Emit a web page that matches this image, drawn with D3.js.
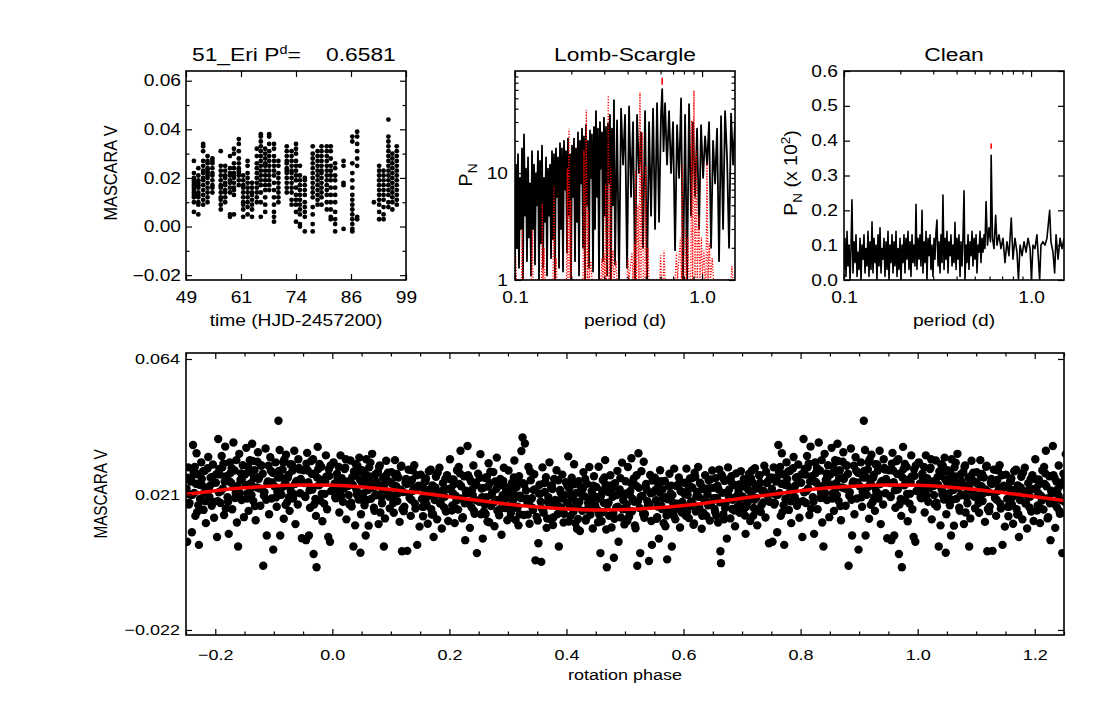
<!DOCTYPE html>
<html>
<head>
<meta charset="utf-8">
<script src="https://cdn.jsdelivr.net/npm/d3@7/dist/d3.min.js"></script>
<style>
html,body{margin:0;padding:0;background:#fff;}
svg{display:block;}
text{font-family:"Liberation Sans",Arial,Helvetica,sans-serif;fill:#000;}
</style>
</head>
<body>
<svg id="chart" width="1097" height="706"></svg>
<script>
// ================= DATA =================
const starName = "51_Eri";
const bestPeriodLabel = "0.6581";
const markPeriod = 0.612;          // period of the marked peak
const lsMarkRange = [67, 78];       // red marker extent in Lomb-Scargle power
const cleanMarkRange = [0.377, 0.392];

// light curve: one entry per night (time) with the magnitudes of that night
const lcNightTimes = [50.8, 51.8, 52.9, 53.9, 55.0, 56.9, 57.9, 59.0, 59.9, 61.0, 62.0, 63.0, 64.0, 65.1, 66.0, 67.0, 67.9, 69.0, 70.0, 71.9, 73.0, 74.0, 74.9, 76.0, 77.8, 78.9, 79.8, 81.0, 81.9, 82.9, 84.8, 86.8, 87.9, 91.7, 92.9, 93.9, 95.0, 95.9, 96.9];
const lcNightMags = [
  [0.027,0.022,0.020,0.019,0.018,0.017,0.016,0.015,0.014,0.013,0.012,0.010,0.006],
  [0.024,0.021,0.019,0.018,0.017,0.016,0.014,0.013,0.012,0.010,0.009,0.005],
  [0.034,0.033,0.031,0.027,0.025,0.023,0.022,0.020,0.019,0.017,0.015,0.013,0.011,0.009],
  [0.029,0.027,0.026,0.024,0.023,0.022,0.021,0.020,0.018,0.016,0.014,0.012,0.010],
  [0.028,0.027,0.026,0.024,0.022,0.021,0.019,0.017,0.016,0.014],
  [0.031,0.025,0.023,0.021,0.019,0.017,0.016,0.014,0.012,0.011,0.009,0.007],
  [0.025,0.023,0.021,0.020,0.018,0.017,0.015,0.014,0.012,0.010],
  [0.029,0.024,0.022,0.021,0.019,0.018,0.016,0.014,0.005,0.004],
  [0.032,0.030,0.026,0.024,0.022,0.021,0.020,0.018,0.016,0.015,0.013,0.005],
  [0.036,0.034,0.031,0.028,0.026,0.024,0.023,0.022,0.021,0.019,0.017],
  [0.021,0.019,0.017,0.016,0.014,0.012,0.010,0.009,0.007,0.004],
  [0.027,0.025,0.022,0.020,0.018,0.016,0.014,0.012,0.010,0.008,0.005],
  [0.018,0.016,0.014,0.013,0.011,0.009,0.007,0.004],
  [0.032,0.029,0.026,0.024,0.022,0.020,0.018,0.016,0.014,0.012,0.010],
  [0.038,0.037,0.035,0.033,0.031,0.029,0.027,0.025,0.023,0.021,0.019,0.017,0.014,0.010,0.004],
  [0.032,0.030,0.028,0.026,0.025,0.023,0.021,0.019,0.017,0.015,0.012,0.009,0.006],
  [0.038,0.037,0.034,0.031,0.029,0.027,0.025,0.023,0.021,0.019,0.017,0.015],
  [0.034,0.032,0.029,0.027,0.025,0.023,0.021,0.018,0.015,0.012,0.009,0.006,0.004,0.002],
  [0.027,0.025,0.022,0.020,0.018,0.016,0.014,0.012,0.010],
  [0.033,0.031,0.029,0.027,0.026,0.024,0.023,0.022,0.020,0.018,0.016,0.014],
  [0.031,0.029,0.027,0.025,0.023,0.022,0.020,0.018,0.016,0.014,0.011,0.009],
  [0.034,0.032,0.030,0.027,0.025,0.023,0.021,0.019,0.016,0.013,0.011,0.009,0.006,0.002],
  [0.025,0.021,0.019,0.017,0.015,0.013,0.011,0.009,0.007,0.005,0.001,0.000],
  [0.020,0.019,0.017,0.015,0.013,0.010,0.008,0.006,0.004,-0.002],
  [0.033,0.030,0.028,0.026,0.024,0.022,0.020,0.018,0.016,0.014,0.012,0.008,0.005,0.001,-0.002],
  [0.031,0.029,0.027,0.025,0.023,0.021,0.019,0.017,0.015,0.013,0.011,0.009],
  [0.033,0.031,0.029,0.027,0.025,0.023,0.022,0.020,0.018,0.016,0.014,0.012,0.009],
  [0.033,0.031,0.029,0.027,0.025,0.023,0.021,0.019,0.017,0.015,0.013,0.010,0.007],
  [0.033,0.031,0.028,0.025,0.023,0.021,0.019,0.016,0.013,0.010,0.007,0.004,0.003],
  [0.026,0.024,0.021,0.019,0.016,0.013,0.010,0.006,0.003,0.001,-0.002],
  [0.027,0.025,0.018,0.017,-0.001],
  [0.037,0.035,0.026,0.022,0.019,0.016,0.013,0.011,0.009,0.007,0.005,0.003,0.001,-0.001,-0.002],
  [0.039,0.037,0.034,0.031,0.028,0.025,0.004,0.003],
  [0.010],
  [0.025,0.023,0.021,0.019,0.017,0.015,0.013,0.011,0.009,0.006,0.003],
  [0.023,0.021,0.019,0.017,0.015,0.013,0.011,0.008,0.005,0.003],
  [0.044,0.037,0.035,0.033,0.031,0.029,0.027,0.025,0.023,0.021,0.019,0.017,0.015,0.013,0.010,0.008],
  [0.030,0.028,0.026,0.024,0.022,0.020,0.018,0.016,0.014,0.012,0.010,0.007],
  [0.033,0.031,0.029,0.027,0.025,0.023,0.021,0.019,0.017,0.015,0.013,0.011,0.009]
];

// Lomb-Scargle periodogram (turning points of the black curve)
const lsPeriods = [
0.1000,0.1012,0.1025,0.1038,0.1050,0.1064,0.1077,0.1090,0.1103,0.1117,0.1131,0.1145,0.1159,0.1174,0.1188,0.1203,0.1218,0.1233,0.1248,0.1264,
0.1279,0.1295,0.1311,0.1327,0.1344,0.1360,0.1377,0.1394,0.1412,0.1429,0.1447,0.1465,0.1483,0.1501,0.1520,0.1539,0.1558,0.1577,0.1597,0.1616,
0.1636,0.1656,0.1677,0.1698,0.1719,0.1740,0.1762,0.1783,0.1806,0.1828,0.1851,0.1873,0.1897,0.1920,0.1944,0.1968,0.1993,0.2017,0.2042,0.2067,
0.2093,0.2118,0.2145,0.2171,0.2199,0.2225,0.2254,0.2281,0.2310,0.2337,0.2368,0.2396,0.2427,0.2455,0.2487,0.2517,0.2549,0.2579,0.2613,0.2643,
0.2678,0.2709,0.2745,0.2777,0.2813,0.2846,0.2883,0.2917,0.2955,0.2989,0.3029,0.3064,0.3105,0.3140,0.3182,0.3218,0.3261,0.3299,0.3343,0.3381,
0.3426,0.3512,0.3599,0.3689,0.3781,0.3875,0.3972,0.4071,0.4172,0.4276,0.4383,0.4492,0.4604,0.4719,0.4837,0.4957,0.5081,0.5207,0.5337,0.5470,
0.5607,0.5746,0.5890,0.6036,0.6120,0.6225,0.6341,0.6499,0.6661,0.6827,0.6998,0.7172,0.7351,0.7534,0.7722,0.7914,0.8112,0.8314,0.8521,0.8734,
0.8951,0.9174,0.9403,0.9637,0.9878,1.0124,1.0376,1.0635,1.0900,1.1172,1.1450,1.1736,1.2028,1.2328,1.2635,1.2950,1.3273,1.3603,1.3942,1.4290,
1.4646,1.5011];
const lsPower = [
1.2,12,2.0,15,1.3,9,3.0,17,1.0,23,4,11,1.5,14,2.5,8,1.1,16,3,12,
1.4,10,5,16,1.0,13,2.2,18,1.3,9,3.5,14,1.1,11,4,12,1.6,16,2.4,15,
1.0,17,6,14,1.3,19,3,17,1.2,20,7,16,1.8,21,4,15,1.0,18,6,21,
1.5,17,3.5,24,1.1,20,8,26,2,22,1.0,28,5,20,1.3,25,9,23,1.2,27,
3,38,6,26,1.0,30,11,24,1.5,33,4,27,1.1,29,8,35,1.0,26,5,48,
1.4,31,1.0,40,12,35,1.3,42,6,30,1.0,35,10,24,2,38,1.0,30,4,40,
3,45,3.5,36,61,16,45,12,38,10,30,1.9,28,9,50,1.0,35,1.0,44,4,
30,6,26,3,28,9,22,12,30,2,20,8,26,1.5,34,3,38,14,2.0,36,
12,30];

// spectral window (red dotted)
const winPeriods = [0.1000,0.10086,0.1019,0.1083,0.1094,0.1103,0.1225,0.1237,0.1248,0.1386,0.1399,0.1411,0.1429,0.1447,0.1596,0.1616,0.1636,0.1656,0.1677,0.1885,0.1904,0.1920,0.1944,0.1968,0.1985,0.2005,0.2309,0.2337,0.2366,0.2405,0.2434,0.2464,0.2486,0.2548,0.2579,0.2882,0.2917,0.2953,0.2990,0.3027,0.3053,0.3083,0.3121,0.3152,0.3187,0.3247,0.3279,0.3340,0.3381,0.3466,0.3509,0.3968,0.4017,0.4067,0.4220,0.4272,0.4352,0.4379,0.4417,0.4461,0.4544,0.4600,0.4657,0.4715,0.4791,0.4850,0.4952,0.4995,0.5045,0.5139,0.5202,0.5936,0.6009,0.6069,0.6197,0.6258,0.6336,0.7165,0.7298,0.7388,0.7666,0.7761,0.7838,0.7925,0.8083,0.8173,0.8254,0.8407,0.8511,0.8702,0.8799,0.8908,0.9051,0.9163,0.9311,0.9427,0.9626,0.9745,0.9926,1.0049,1.0237,1.0363,1.0492,1.0622,1.0753,1.0954,1.1089,1.1338,1.1506,1.4270,1.4446,1.4625,1.5011];
const winPower = [1,1.7,1,1,3.0,1,1,2.9,1,1,5.2,1,2.0,1,1,7.5,1,1.6,1,1,11,1,26,1,5.6,1,1,16.5,1,39,1,4.5,1,1.5,1,1,1.6,1,1.8,1,8,1,1.6,53,1,11.6,1,1.9,1,1.5,1,1,1.6,1,1.8,1,2.2,1,10.5,1,5,1,57,1,24,1,1,11.6,1,2.0,1,1,1.7,1,1,1.9,1,1,1.8,1,2.5,1,12,1,1,3,1,2.5,1,1,31,1,59,1,16,1,4,1,2.5,1,1.9,1,1,12.5,1,2.2,1,1.6,1,1,1.35,1,1];

// CLEAN periodogram (power x 10^2)
const cleanPeriods = [
0.1000,0.1012,0.1025,0.1038,0.1050,0.1064,0.1077,0.1090,0.1103,0.1117,0.1131,0.1145,0.1159,0.1174,0.1188,0.1203,0.1218,0.1233,0.1248,0.1264,
0.1279,0.1295,0.1311,0.1327,0.1344,0.1360,0.1377,0.1394,0.1412,0.1429,0.1447,0.1465,0.1483,0.1501,0.1520,0.1539,0.1558,0.1577,0.1597,0.1616,
0.1636,0.1656,0.1677,0.1698,0.1719,0.1740,0.1762,0.1783,0.1806,0.1828,0.1851,0.1873,0.1897,0.1920,0.1944,0.1968,0.1993,0.2017,0.2042,0.2067,
0.2093,0.2118,0.2145,0.2171,0.2199,0.2225,0.2254,0.2281,0.2310,0.2337,0.2368,0.2396,0.2427,0.2455,0.2487,0.2517,0.2549,0.2579,0.2613,0.2643,
0.2678,0.2709,0.2745,0.2777,0.2813,0.2846,0.2883,0.2917,0.2955,0.2989,0.3029,0.3064,0.3105,0.3140,0.3182,0.3218,0.3261,0.3299,0.3343,0.3381,
0.3426,0.3466,0.3512,0.3552,0.3599,0.3640,0.3689,0.3731,0.3781,0.3824,0.3875,0.3920,0.3972,0.4017,0.4071,0.4118,0.4172,0.4220,0.4276,0.4325,
0.4383,0.4433,0.4492,0.4544,0.4604,0.4657,0.4719,0.4773,0.4837,0.4892,0.4957,0.5014,0.5081,0.5139,0.5207,0.5267,0.5337,0.5398,0.5470,0.5532,
0.5607,0.5670,0.5746,0.5848,0.5958,0.6069,0.6120,0.6220,0.6336,0.6468,0.6573,0.6736,0.6904,0.7077,0.7253,0.7434,0.7619,0.7838,0.8003,0.8203,
0.8407,0.8564,0.8734,0.8951,0.9174,0.9403,0.9637,0.9878,1.0049,1.0237,1.0492,1.0753,1.1116,1.1296,1.1578,1.1866,1.2162,1.2573,1.2776,1.3094,
1.3371,1.3603,1.3942,1.4290,1.4646,1.5011];
const cleanPower = [
0.03,0.12,0.01,0.14,0.04,0.10,0.00,0.09,0.230,0.02,0.11,0.05,0.13,0.01,0.08,0.03,0.12,0.00,0.10,0.06,
0.13,0.02,0.09,0.04,0.14,0.01,0.11,0.03,0.167,0.02,0.12,0.05,0.10,0.00,0.13,0.04,0.15,0.02,0.09,0.06,
0.12,0.01,0.11,0.03,0.14,0.00,0.10,0.05,0.13,0.02,0.11,0.04,0.14,0.01,0.09,0.03,0.12,0.00,0.10,0.05,
0.13,0.02,0.12,0.06,0.14,0.03,0.11,0.01,0.13,0.05,0.10,0.04,0.217,0.03,0.12,0.06,0.13,0.04,0.200,0.02,
0.11,0.05,0.14,0.00,0.12,0.07,0.13,0.03,0.10,0.01,0.12,0.06,0.14,0.172,0.04,0.11,0.02,0.13,0.05,0.244,
0.03,0.12,0.06,0.14,0.02,0.11,0.07,0.13,0.04,0.10,0.05,0.166,0.03,0.12,0.06,0.13,0.01,0.11,0.04,0.12,
0.256,0.00,0.10,0.05,0.13,0.03,0.11,0.07,0.14,0.04,0.12,0.06,0.13,0.02,0.10,0.08,0.14,0.05,0.12,0.08,
0.13,0.09,0.225,0.10,0.15,0.11,0.358,0.12,0.09,0.186,0.10,0.13,0.09,0.12,0.05,0.11,0.07,0.178,0.06,0.12,
0.08,0.00,0.10,0.07,0.11,0.08,0.12,0.09,0.00,0.10,0.09,0.13,0.00,0.10,0.11,0.10,0.12,0.200,0.11,0.08,
0.02,0.13,0.06,0.12,0.09,0.12];

// phase-folded light curve [phase, magnitude], phases in [0,1)
const foldedPoints = [
[0.002,0.0312],[0.004,0.0245],[0.006,0.0198],[0.008,0.0276],[0.010,0.0221],[0.012,0.0153],[0.014,0.0334],[0.016,0.0262],[0.018,0.0187],[0.020,0.0229],[0.022,0.0295],[0.024,0.0131],[0.026,0.0251],[0.028,0.0208],[0.031,0.0318],[0.033,0.0172],[0.035,0.0241],[0.037,0.0283],[0.039,0.0112],[0.041,0.0226],[0.043,0.0301],[0.045,0.0194],[0.047,0.0258],[0.049,0.0147],[0.036,0.0045],[0.048,0.0025],
[0.003,0.0228],[0.009,0.0263],[0.015,0.0206],[0.021,0.0291],[0.027,0.0237],[0.032,0.0184],[0.038,0.0272],[0.044,0.0215],[0.046,0.0327],[0.050,0.0249],
[0.005,0.0201],[0.011,0.0297],[0.017,0.0238],[0.023,0.0322],[0.029,0.0179],[0.034,0.0265],[0.040,0.0306],[0.042,0.0209],[0.013,0.0252],[0.047,0.0283],
[0.051,0.0287],[0.053,0.0213],[0.055,0.0176],[0.058,0.0322],[0.060,0.0248],[0.062,0.0111],[0.064,0.0267],[0.066,0.0196],[0.068,0.0339],[0.070,0.0231],[0.072,0.0158],[0.074,0.0274],[0.076,0.0209],[0.079,0.0116],[0.081,0.0302],[0.083,0.0238],[0.085,0.0182],[0.087,0.0263],[0.088,0.0045],[0.090,0.0134],[0.092,0.0317],[0.094,0.0219],[0.096,0.0252],[0.098,0.0166],[0.057,0.0080],
[0.054,0.0258],[0.059,0.0193],[0.063,0.0296],[0.069,0.0244],[0.073,0.0207],[0.078,0.0281],[0.082,0.0153],[0.086,0.0226],[0.091,0.0269],[0.097,0.0203],
[0.052,0.0192],[0.056,0.0276],[0.061,0.0224],[0.065,0.0311],[0.071,0.0168],[0.075,0.0251],[0.080,0.0297],[0.084,0.0201],[0.089,0.0242],[0.095,0.0279],
[0.101,0.0281],[0.103,0.0207],[0.105,0.0152],[0.107,0.0319],[0.109,0.0236],[0.111,0.0189],[0.113,0.0264],[0.115,0.0123],[0.117,0.0298],[0.119,0.0030],[0.121,0.0218],[0.123,0.0171],[0.125,0.0247],[0.128,0.0031],[0.130,0.0289],[0.132,0.0199],[0.134,0.0142],[0.136,0.0256],[0.138,0.0222],[0.140,0.0303],[0.142,0.0165],[0.145,0.0050],[0.147,0.0238],[0.149,0.0108],
[0.102,0.0244],[0.106,0.0188],[0.110,0.0275],[0.116,0.0226],[0.120,0.0163],[0.126,0.0259],[0.131,0.0212],[0.137,0.0287],[0.141,0.0181],[0.146,0.0233],
[0.104,0.0183],[0.108,0.0266],[0.112,0.0214],[0.118,0.0301],[0.122,0.0157],[0.127,0.0243],[0.133,0.0288],[0.135,0.0193],[0.139,0.0232],[0.144,0.0271],
[0.151,0.0273],[0.153,0.0196],[0.155,0.0141],[0.157,0.0228],[0.159,0.0252],[0.161,0.0178],[0.163,0.0117],[0.165,0.0284],[0.167,0.0210],[0.169,0.0163],[0.171,0.0239],[0.173,0.0075],[0.175,0.0192],[0.177,0.0266],[0.179,0.0131],[0.181,0.0217],[0.183,0.0295],[0.185,0.0184],[0.187,0.0102],[0.189,0.0246],[0.192,0.0203],[0.194,0.0156],[0.196,0.0271],[0.198,0.0126],
[0.152,0.0237],[0.156,0.0171],[0.160,0.0261],[0.166,0.0224],[0.172,0.0147],[0.176,0.0232],[0.180,0.0279],[0.186,0.0208],[0.191,0.0169],[0.197,0.0227],
[0.154,0.0171],[0.158,0.0253],[0.162,0.0202],[0.168,0.0289],[0.170,0.0146],[0.174,0.0231],[0.178,0.0276],[0.184,0.0181],[0.188,0.0222],[0.193,0.0259],
[0.201,0.0322],[0.203,0.0231],[0.205,0.0175],[0.207,0.0258],[0.209,0.0119],[0.211,0.0205],[0.213,0.0287],[0.215,0.0162],[0.217,0.0243],[0.219,0.0349],[0.221,0.0197],[0.223,0.0138],[0.225,0.0268],[0.227,0.0065],[0.229,0.0214],[0.231,0.0364],[0.233,0.0181],[0.235,0.0104],[0.237,0.0251],[0.239,0.0226],[0.241,0.0302],[0.243,0.0149],[0.245,0.0192],[0.247,0.0024],[0.249,0.0276],
[0.202,0.0258],[0.206,0.0214],[0.210,0.0166],[0.216,0.0297],[0.220,0.0236],[0.226,0.0182],[0.232,0.0271],[0.236,0.0219],[0.242,0.0158],[0.246,0.0241],
[0.204,0.0159],[0.208,0.0243],[0.212,0.0191],[0.218,0.0277],[0.222,0.0134],[0.228,0.0222],[0.234,0.0262],[0.238,0.0169],[0.240,0.0208],[0.244,0.0247],
[0.251,0.0187],[0.253,0.0338],[0.255,0.0229],[0.257,0.0070],[0.259,0.0156],[0.261,0.0262],[0.263,0.0201],[0.265,0.0124],[0.267,0.0309],[0.269,0.0246],[0.271,0.0173],[0.273,0.0215],[0.275,0.0281],[0.277,0.0109],[0.279,0.0193],[0.281,0.0327],[0.283,0.0236],[0.285,0.0144],[0.287,0.0259],[0.289,0.0082],[0.291,0.0208],[0.293,0.0295],[0.295,0.0167],[0.297,0.0224],[0.299,0.0128],
[0.252,0.0263],[0.256,0.0201],[0.262,0.0148],[0.266,0.0235],[0.270,0.0282],[0.276,0.0185],[0.280,0.0227],[0.286,0.0163],[0.292,0.0253],[0.296,0.0196],
[0.254,0.0147],[0.258,0.0231],[0.260,0.0179],[0.264,0.0266],[0.268,0.0122],[0.272,0.0208],[0.278,0.0251],[0.282,0.0158],[0.288,0.0196],[0.294,0.0236],
[0.301,0.0286],[0.303,0.0213],[0.305,0.0151],[0.307,0.0247],[0.309,0.0192],[0.311,0.0318],[0.313,0.0129],[0.315,0.0234],[0.317,0.0171],[0.319,0.0268],[0.321,0.0206],[0.323,0.0348],[0.325,0.0391],[0.327,0.0145],[0.329,0.0372],[0.331,0.0223],[0.333,0.0186],[0.335,0.0297],[0.337,0.0117],[0.339,0.0255],[0.341,0.0198],[0.343,0.0161],[0.345,0.0274],[0.347,0.0001],[0.349,0.0139],
[0.302,0.0232],[0.306,0.0176],[0.310,0.0264],[0.316,0.0206],[0.320,0.0147],[0.326,0.0246],[0.332,0.0197],[0.338,0.0283],[0.342,0.0168],[0.346,0.0226],
[0.304,0.0137],[0.308,0.0219],[0.312,0.0168],[0.314,0.0255],[0.318,0.0112],[0.322,0.0199],[0.328,0.0241],[0.334,0.0146],[0.336,0.0185],[0.344,0.0224],
[0.352,0.0055],[0.354,0.0241],[0.356,0.0187],[0.357,-0.0004],[0.359,0.0296],[0.361,0.0152],[0.363,0.0218],[0.365,0.0265],[0.367,0.0134],[0.369,0.0201],[0.371,0.0312],[0.373,0.0176],[0.375,0.0239],[0.377,0.0113],[0.379,0.0259],[0.381,0.0193],[0.383,0.0287],[0.385,0.0148],[0.387,0.0045],[0.389,0.0224],[0.391,0.0169],[0.393,0.0273],[0.395,0.0121],[0.397,0.0208],[0.399,0.0249],
[0.353,0.0213],[0.358,0.0165],[0.362,0.0246],[0.368,0.0186],[0.372,0.0132],[0.376,0.0227],[0.382,0.0174],[0.386,0.0255],[0.392,0.0197],[0.396,0.0149],
[0.351,0.0127],[0.355,0.0212],[0.360,0.0159],[0.364,0.0248],[0.366,0.0104],[0.370,0.0191],[0.374,0.0233],[0.378,0.0138],[0.384,0.0177],[0.390,0.0216],
[0.401,0.0185],[0.403,0.0331],[0.405,0.0228],[0.407,0.0142],[0.409,0.0263],[0.411,0.0197],[0.413,0.0306],[0.415,0.0119],[0.417,0.0215],[0.419,0.0171],[0.421,0.0252],[0.423,0.0094],[0.425,0.0233],[0.427,0.0158],[0.429,0.0281],[0.431,0.0204],[0.433,0.0127],[0.435,0.0244],[0.437,0.0183],[0.439,0.0297],[0.441,0.0146],[0.443,0.0221],[0.445,0.0102],[0.447,0.0268],[0.449,0.0176],
[0.402,0.0236],[0.406,0.0171],[0.410,0.0247],[0.416,0.0188],[0.420,0.0132],[0.426,0.0211],[0.432,0.0259],[0.436,0.0162],[0.442,0.0195],[0.446,0.0238],
[0.404,0.0124],[0.408,0.0207],[0.412,0.0155],[0.414,0.0243],[0.418,0.0101],[0.422,0.0186],[0.428,0.0229],[0.434,0.0134],[0.438,0.0172],[0.444,0.0212],
[0.451,0.0234],[0.453,0.0161],[0.455,0.0298],[0.457,0.0197],[0.458,0.0024],[0.460,0.0125],[0.462,0.0256],[0.464,0.0183],[0.466,0.0319],[0.469,-0.0021],[0.471,0.0218],[0.473,0.0142],[0.475,0.0271],[0.477,0.0105],[0.479,0.0203],[0.481,0.0009],[0.483,0.0246],[0.485,0.0169],[0.487,0.0285],[0.489,0.0060],[0.491,0.0226],[0.493,0.0137],[0.495,0.0311],[0.497,0.0192],[0.499,0.0115],
[0.452,0.0202],[0.456,0.0146],[0.461,0.0223],[0.465,0.0264],[0.470,0.0177],[0.476,0.0239],[0.480,0.0151],[0.486,0.0208],[0.492,0.0262],[0.496,0.0163],
[0.454,0.0122],[0.459,0.0206],[0.463,0.0154],[0.467,0.0241],[0.468,0.0099],[0.472,0.0185],[0.478,0.0228],[0.482,0.0133],[0.488,0.0171],[0.494,0.0211],
[0.501,0.0252],[0.503,0.0178],[0.505,0.0297],[0.507,0.0139],[0.509,0.0221],[0.511,0.0325],[0.513,0.0196],[0.515,0.0261],[0.517,0.0112],[0.519,0.0238],[0.521,-0.0016],[0.523,0.0341],[0.525,0.0167],[0.526,0.0024],[0.528,0.0284],[0.530,0.0205],[0.532,0.0314],[0.534,0.0148],[0.536,0.0243],[0.538,0.0189],[0.541,-0.0001],[0.543,0.0272],[0.545,0.0126],[0.546,0.0050],[0.548,0.0217],
[0.502,0.0213],[0.506,0.0158],[0.510,0.0246],[0.516,0.0187],[0.520,0.0271],[0.527,0.0204],[0.531,0.0148],[0.537,0.0226],[0.542,0.0179],[0.547,0.0254],
[0.504,0.0126],[0.508,0.0209],[0.512,0.0157],[0.514,0.0245],[0.518,0.0103],[0.522,0.0188],[0.524,0.0231],[0.533,0.0136],[0.539,0.0174],[0.544,0.0214],
[0.551,0.0263],[0.553,0.0192],[0.555,0.0138],[0.557,0.0241],[0.558,0.0070],[0.560,0.0287],[0.562,0.0175],[0.564,0.0226],[0.566,0.0119],[0.568,0.0253],[0.570,0.0201],[0.572,0.0004],[0.574,0.0158],[0.576,0.0276],[0.578,0.0213],[0.580,0.0045],[0.582,0.0184],[0.584,0.0292],[0.586,0.0131],[0.588,0.0237],[0.590,0.0166],[0.592,0.0264],[0.594,0.0105],[0.596,0.0219],[0.598,0.0186],
[0.552,0.0224],[0.556,0.0172],[0.561,0.0252],[0.565,0.0199],[0.571,0.0143],[0.575,0.0237],[0.581,0.0208],[0.585,0.0163],[0.591,0.0242],[0.597,0.0153],
[0.554,0.0133],[0.559,0.0216],[0.563,0.0164],[0.567,0.0252],[0.569,0.0109],[0.573,0.0195],[0.579,0.0238],[0.583,0.0143],[0.589,0.0181],[0.595,0.0221],
[0.601,0.0247],[0.603,0.0173],[0.605,0.0292],[0.607,0.0209],[0.609,0.0135],[0.611,0.0261],[0.613,0.0188],[0.615,0.0232],[0.617,0.0114],[0.619,0.0279],[0.621,0.0156],[0.623,0.0218],[0.625,0.0297],[0.627,0.0169],[0.629,0.0243],[0.631,0.0101],[0.633,0.0227],[0.635,0.0194],[0.637,0.0271],[0.639,0.0142],[0.641,0.0211],[0.643,0.0255],[0.645,0.0127],[0.647,0.0183],[0.649,0.0286],
[0.602,0.0211],[0.606,0.0154],[0.610,0.0236],[0.616,0.0181],[0.620,0.0266],[0.626,0.0203],[0.632,0.0142],[0.636,0.0229],[0.642,0.0176],[0.646,0.0258],
[0.604,0.0142],[0.608,0.0226],[0.612,0.0173],[0.614,0.0261],[0.618,0.0118],[0.622,0.0204],[0.628,0.0247],[0.634,0.0152],[0.638,0.0190],[0.644,0.0230],
[0.651,0.0231],[0.653,0.0164],[0.655,0.0262],[0.657,0.0198],[0.659,0.0121],[0.661,0.0289],[0.663,0.0030],[0.664,-0.0008],[0.666,0.0215],[0.668,0.0147],[0.670,0.0253],[0.672,0.0182],[0.674,0.0070],[0.676,0.0296],[0.678,0.0226],[0.680,0.0134],[0.682,0.0268],[0.684,0.0193],[0.686,0.0241],[0.688,0.0109],[0.690,0.0277],[0.692,0.0171],[0.694,0.0219],[0.696,0.0152],[0.698,0.0284],
[0.652,0.0198],[0.656,0.0142],[0.660,0.0226],[0.667,0.0264],[0.671,0.0167],[0.677,0.0205],[0.681,0.0251],[0.687,0.0159],[0.691,0.0237],[0.697,0.0186],
[0.654,0.0154],[0.658,0.0238],[0.662,0.0185],[0.665,0.0273],[0.669,0.0131],[0.673,0.0216],[0.679,0.0259],[0.683,0.0164],[0.689,0.0202],[0.695,0.0242],
[0.701,0.0204],[0.703,0.0259],[0.705,0.0143],[0.706,0.0085],[0.708,0.0231],[0.710,0.0187],[0.712,0.0276],[0.714,0.0126],[0.716,0.0214],[0.718,0.0248],[0.720,0.0167],[0.722,0.0293],[0.724,0.0199],[0.726,0.0112],[0.728,0.0238],[0.730,0.0271],[0.732,0.0154],[0.734,0.0222],[0.736,0.0185],[0.738,0.0301],[0.740,0.0137],[0.742,0.0246],[0.744,0.0206],[0.746,0.0055],[0.748,0.0264],
[0.702,0.0236],[0.707,0.0171],[0.711,0.0224],[0.715,0.0262],[0.721,0.0193],[0.727,0.0158],[0.731,0.0247],[0.737,0.0221],[0.741,0.0282],[0.747,0.0187],
[0.704,0.0166],[0.709,0.0249],[0.713,0.0197],[0.717,0.0286],[0.719,0.0142],[0.723,0.0228],[0.729,0.0271],[0.733,0.0176],[0.739,0.0214],[0.745,0.0254],
[0.751,0.0228],[0.752,0.0060],[0.754,0.0296],[0.756,0.0183],[0.758,0.0251],[0.760,0.0090],[0.762,0.0367],[0.764,0.0215],[0.766,0.0142],[0.768,0.0341],[0.770,0.0274],[0.772,0.0050],[0.774,0.0196],[0.776,0.0312],[0.778,0.0238],[0.780,0.0161],[0.782,0.0285],[0.784,0.0119],[0.786,0.0223],[0.788,0.0329],[0.790,0.0202],[0.792,0.0263],[0.794,0.0174],[0.796,0.0305],[0.798,0.0136],
[0.753,0.0263],[0.757,0.0209],[0.763,0.0281],[0.767,0.0244],[0.771,0.0176],[0.777,0.0259],[0.781,0.0214],[0.787,0.0293],[0.791,0.0238],[0.797,0.0186],
[0.755,0.0178],[0.759,0.0262],[0.761,0.0209],[0.765,0.0297],[0.769,0.0154],[0.773,0.0241],[0.779,0.0283],[0.783,0.0188],[0.789,0.0226],[0.795,0.0266],
[0.801,0.0247],[0.803,0.0075],[0.805,0.0386],[0.807,0.0291],[0.809,0.0183],[0.811,0.0332],[0.813,0.0229],[0.815,0.0145],[0.817,0.0362],[0.819,0.0268],[0.821,0.0201],[0.823,0.0085],[0.825,0.0312],[0.827,0.0247],[0.829,0.0163],[0.831,0.0375],[0.833,0.0286],[0.835,0.0215],[0.837,0.0121],[0.839,0.0045],[0.841,0.0339],[0.843,0.0256],[0.845,0.0192],[0.847,0.0303],[0.849,0.0138],
[0.802,0.0274],[0.806,0.0217],[0.812,0.0296],[0.816,0.0251],[0.822,0.0187],[0.826,0.0278],[0.832,0.0232],[0.836,0.0319],[0.842,0.0214],[0.846,0.0263],
[0.804,0.0189],[0.808,0.0273],[0.810,0.0221],[0.814,0.0308],[0.818,0.0165],[0.824,0.0252],[0.828,0.0294],[0.834,0.0199],[0.838,0.0237],[0.844,0.0277],
[0.851,0.0274],[0.853,0.0358],[0.855,0.0213],[0.857,0.0158],[0.859,0.0319],[0.861,0.0246],[0.863,0.0371],[0.865,0.0189],[0.867,0.0287],[0.869,0.0128],[0.871,0.0232],[0.873,0.0344],[0.875,0.0265],[0.877,0.0174],[0.879,0.0302],[0.882,-0.0016],[0.884,0.0217],[0.886,0.0356],[0.888,0.0080],[0.890,0.0251],[0.892,0.0147],[0.894,0.0328],[0.896,0.0197],[0.898,0.0279],[0.899,0.0035],
[0.852,0.0241],[0.856,0.0297],[0.862,0.0208],[0.866,0.0262],[0.872,0.0314],[0.876,0.0229],[0.881,0.0276],[0.887,0.0193],[0.891,0.0301],[0.897,0.0248],
[0.854,0.0197],[0.858,0.0281],[0.860,0.0228],[0.864,0.0316],[0.868,0.0173],[0.874,0.0259],[0.878,0.0302],[0.883,0.0207],[0.889,0.0245],[0.895,0.0285],
[0.901,0.0236],[0.903,0.0312],[0.905,0.0171],[0.907,0.0264],[0.908,0.0444],[0.910,0.0351],[0.911,0.0080],[0.913,0.0209],[0.915,0.0289],[0.917,0.0133],[0.919,0.0243],[0.921,0.0336],[0.923,0.0186],[0.925,0.0272],[0.927,0.0158],[0.929,0.0221],[0.931,0.0305],[0.933,0.0197],[0.935,0.0349],[0.937,0.0116],[0.939,0.0253],[0.941,0.0178],[0.943,0.0294],[0.945,0.0214],[0.948,0.0071],
[0.902,0.0277],[0.906,0.0219],[0.912,0.0264],[0.916,0.0312],[0.922,0.0238],[0.926,0.0201],[0.932,0.0286],[0.936,0.0243],[0.942,0.0322],[0.946,0.0259],
[0.904,0.0201],[0.909,0.0285],[0.914,0.0232],[0.918,0.0321],[0.920,0.0177],[0.924,0.0263],[0.928,0.0306],[0.934,0.0211],[0.938,0.0249],[0.944,0.0289],
[0.951,0.0287],[0.953,0.0205],[0.955,0.0065],[0.957,0.0342],[0.959,0.0249],[0.960,0.0080],[0.962,0.0168],[0.964,0.0316],[0.966,0.0226],[0.968,0.0021],[0.970,0.0277],[0.972,0.0142],[0.973,-0.0021],[0.975,0.0361],[0.977,0.0239],[0.979,0.0191],[0.981,0.0298],[0.983,0.0125],[0.985,0.0258],[0.987,0.0212],[0.989,0.0334],[0.991,0.0163],[0.993,0.0075],[0.995,0.0269],[0.996,0.0060],[0.998,0.0221],
[0.952,0.0246],[0.956,0.0308],[0.961,0.0223],[0.965,0.0275],[0.971,0.0196],[0.976,0.0291],[0.980,0.0244],[0.986,0.0181],[0.990,0.0267],[0.997,0.0302],
[0.954,0.0202],[0.958,0.0286],[0.963,0.0233],[0.967,0.0322],[0.969,0.0178],[0.974,0.0264],[0.978,0.0307],[0.982,0.0212],[0.988,0.0250],[0.994,0.0290]
];

// sinusoidal fit (red), read at phase steps
const fitPhase = [-0.25,-0.20,-0.15,-0.10,-0.05,0.00,0.05,0.10,0.15,0.20,0.25,0.30,0.35,0.40,0.45,0.50,0.55,0.60,0.65,0.70,0.75,0.80,0.85,0.90,0.95,1.00,1.05,1.10,1.15,1.20,1.25];
const fitMag = [0.0210,0.0222,0.0231,0.0237,0.0240,0.0239,0.0234,0.0226,0.0215,0.0203,0.0191,0.0179,0.0170,0.0164,0.0161,0.0162,0.0167,0.0175,0.0186,0.0198,0.0210,0.0222,0.0231,0.0237,0.0240,0.0239,0.0234,0.0226,0.0215,0.0203,0.0191];

// tick values
const lcXTicks = [49, 61.5, 74, 86.5, 99];
const lcYTicks = [-0.02, 0.00, 0.02, 0.04, 0.06];
const lcYMinor = [-0.01, 0.01, 0.03, 0.05];
const periodMajor = [0.1, 1.0];
const periodMinor = [0.2,0.3,0.4,0.5,0.6,0.7,0.8,0.9];
const lsYMajor = [1, 10];
const lsYMinor = [2,3,4,5,6,7,8,9,20,30,40,50,60,70,80];
const cleanYTicks = [0.0,0.1,0.2,0.3,0.4,0.5,0.6];
const phaseMajor = [-0.2,0.0,0.2,0.4,0.6,0.8,1.0,1.2];
const phaseMinor = [-0.25,-0.15,-0.1,-0.05,0.05,0.1,0.15,0.25,0.3,0.35,0.45,0.5,0.55,0.65,0.7,0.75,0.85,0.9,0.95,1.05,1.1,1.15,1.25];
const foldYTicks = [-0.022, 0.021, 0.064];

// ================= DRAWING =================
const SX = 1.2;            // horizontal stretch of the glyphs
const MAJ = 6, MIN = 3.5;
const svg = d3.select('#chart');

// scales
const xLc = d3.scaleLinear([49, 99], [186, 406]);
const yLc = d3.scaleLinear([-0.022, 0.064], [280, 71]);
const xLs = d3.scaleLog([0.1, 1.5], [515, 735]);
const yLs = d3.scaleLog([1, 90], [280, 71]);
const xCl = d3.scaleLog([0.1, 1.5], [844, 1064]);
const yCl = d3.scaleLinear([0, 0.6], [280, 71]);
const xPh = d3.scaleLinear([-0.25, 1.25], [186, 1064]);
const yPh = d3.scaleLinear([-0.0236, 0.0659], [635, 353]);

function clip(id, x, y) {
  const [x0, x1] = x.range(), [yb, yt] = y.range();
  svg.append('clipPath').attr('id', id).append('rect')
    .attr('x', x0).attr('y', yt).attr('width', x1 - x0).attr('height', yb - yt);
  return `url(#${id})`;
}

function axes(o) {
  const [x0, x1] = o.x.range(), [yb, yt] = o.y.range();
  const g = svg.append('g');
  function ax(fn, scale, vals, len, fmt, pad, tx, ty) {
    if (!vals || !vals.length) return;
    const a = fn(scale).tickValues(vals).tickSize(-len).tickPadding(pad || 0)
      .tickFormat(fmt || (() => ''));
    const s = g.append('g').attr('transform', `translate(${tx},${ty})`).call(a);
    s.attr('font-family', null).attr('font-size', o.fs);
    s.select('.domain').remove();
    s.selectAll('line').attr('stroke', '#000').attr('stroke-width', 1.2);
    s.selectAll('text').attr('transform', `scale(${SX},1)`);
  }
  ax(d3.axisBottom, o.x, o.xMajor, MAJ, o.xFmt, o.xPad, 0, yb);
  ax(d3.axisBottom, o.x, o.xMinor, MIN, null, 0, 0, yb);
  ax(d3.axisTop, o.x, o.xMajor, MAJ, null, 0, 0, yt);
  ax(d3.axisTop, o.x, o.xMinor, MIN, null, 0, 0, yt);
  ax(d3.axisLeft, o.y, o.yMajor, MAJ, o.yFmt, o.yPad, x0, 0);
  ax(d3.axisLeft, o.y, o.yMinor, MIN, null, 0, x0, 0);
  ax(d3.axisRight, o.y, o.yMajor, MAJ, null, 0, x1, 0);
  ax(d3.axisRight, o.y, o.yMinor, MIN, null, 0, x1, 0);
  g.append('rect').attr('x', x0).attr('y', yt).attr('width', x1 - x0).attr('height', yb - yt)
    .attr('fill', 'none').attr('stroke', '#000').attr('stroke-width', 1.6);
}

// rotate: 0 for horizontal text; otherwise the stretch applied along the vertical text
function label(x, y, parts, size, anchor, rotate) {
  const tf = `translate(${x},${y}) scale(${SX},1)` + (rotate ? ` rotate(-90) scale(${rotate},1)` : '');
  const t = svg.append('text').attr('transform', tf)
    .attr('font-size', size).attr('text-anchor', anchor || 'middle')
    .style('white-space', 'pre');
  if (typeof parts === 'string') { t.text(parts); return t; }
  parts.forEach(p => {
    const s = t.append('tspan').text(p.t);
    if (p.dy) s.attr('dy', p.dy);
    if (p.fs) s.attr('font-size', p.fs);
  });
  return t;
}

// ---------- Panel 1: light curve ----------
const lcPoints = lcNightTimes.flatMap((t, i) => lcNightMags[i].map(v => [t, v]));
const c1 = clip('clip1', xLc, yLc);
svg.append('g').attr('clip-path', c1).selectAll('circle').data(lcPoints).join('circle')
  .attr('cx', d => xLc(d[0])).attr('cy', d => yLc(d[1])).attr('r', 2.4).attr('fill', '#000');
axes({x: xLc, y: yLc, xMajor: lcXTicks, yMajor: lcYTicks, yMinor: lcYMinor,
      xFmt: d => String(Math.floor(d)), yFmt: d3.format('.2f'), fs: 16, xPad: 11.6, yPad: 4.2});
label(192, 61, [{t: starName + ' P'}, {t: 'd', dy: -7, fs: 12}, {t: '=    ', dy: 7}, {t: bestPeriodLabel}], 19, 'start');
label(296, 326, 'time (HJD-2457200)', 16);
label(117, 173, 'MASCARA V', 16, 'middle', 1.02);

// ---------- Panel 2: Lomb-Scargle ----------
const c2 = clip('clip2', xLs, yLs);
const g2 = svg.append('g').attr('clip-path', c2);
g2.append('path').datum(lsPeriods.map((p, i) => [p, lsPower[i]]))
  .attr('d', d3.line().x(d => xLs(d[0])).y(d => yLs(d[1])))
  .attr('fill', 'none').attr('stroke', '#000').attr('stroke-width', 1.8).attr('stroke-linejoin', 'round');
g2.append('path').datum(winPeriods.map((p, i) => [p, winPower[i]]))
  .attr('d', d3.line().x(d => xLs(d[0])).y(d => yLs(d[1])))
  .attr('fill', 'none').attr('stroke', '#ff0000').attr('stroke-width', 1.3).attr('stroke-dasharray', '1.2,1.6');
svg.append('line').attr('x1', xLs(markPeriod)).attr('x2', xLs(markPeriod))
  .attr('y1', yLs(lsMarkRange[0])).attr('y2', yLs(lsMarkRange[1]))
  .attr('stroke', '#ff0000').attr('stroke-width', 1.6);
axes({x: xLs, y: yLs, xMajor: periodMajor, xMinor: periodMinor, yMajor: lsYMajor, yMinor: lsYMinor,
      xFmt: d3.format('.1f'), yFmt: d => String(d), fs: 16, xPad: 11.6, yPad: 5.8});
label(625, 61, 'Lomb-Scargle', 19);
label(625, 326, 'period (d)', 16);
label(472, 175, [{t: 'P'}, {t: 'N', dy: 4, fs: 11}], 16, 'middle', 1.25);

// ---------- Panel 3: CLEAN ----------
const c3 = clip('clip3', xCl, yCl);
svg.append('g').attr('clip-path', c3).append('path')
  .datum(cleanPeriods.map((p, i) => [p, cleanPower[i]]))
  .attr('d', d3.line().x(d => xCl(d[0])).y(d => yCl(d[1])))
  .attr('fill', 'none').attr('stroke', '#000').attr('stroke-width', 1.6).attr('stroke-linejoin', 'round');
svg.append('line').attr('x1', xCl(markPeriod)).attr('x2', xCl(markPeriod))
  .attr('y1', yCl(cleanMarkRange[0])).attr('y2', yCl(cleanMarkRange[1]))
  .attr('stroke', '#ff0000').attr('stroke-width', 1.6);
axes({x: xCl, y: yCl, xMajor: periodMajor, xMinor: periodMinor, yMajor: cleanYTicks,
      xFmt: d3.format('.1f'), yFmt: d3.format('.1f'), fs: 16, xPad: 11.6, yPad: 5});
label(954, 61, 'Clean', 19);
label(954, 326, 'period (d)', 16);
label(797, 173, [{t: 'P'}, {t: 'N', dy: 4, fs: 11}, {t: ' (x 10', dy: -4}, {t: '2', dy: -6, fs: 11}, {t: ')', dy: 6}], 16, 'middle', 1.22);

// ---------- Panel 4: phase-folded ----------
const c4 = clip('clip4', xPh, yPh);
const shown = foldedPoints.flatMap(d => [[d[0] - 1, d[1]], [d[0], d[1]], [d[0] + 1, d[1]]])
  .filter(d => d[0] >= -0.27 && d[0] <= 1.27);
const g4 = svg.append('g').attr('clip-path', c4);
g4.selectAll('circle').data(shown).join('circle')
  .attr('cx', d => xPh(d[0])).attr('cy', d => yPh(d[1])).attr('r', 4.2).attr('fill', '#000');
g4.append('path').datum(fitPhase.map((p, i) => [p, fitMag[i]]))
  .attr('d', d3.line().curve(d3.curveCatmullRom).x(d => xPh(d[0])).y(d => yPh(d[1])))
  .attr('fill', 'none').attr('stroke', '#ff0000').attr('stroke-width', 3.5);
axes({x: xPh, y: yPh, xMajor: phaseMajor, xMinor: phaseMinor, yMajor: foldYTicks,
      xFmt: d3.format('.1f'), yFmt: d3.format('.3f'), fs: 15, xPad: 14.4, yPad: 5});
label(625, 680, 'rotation phase', 15);
label(107, 494, 'MASCARA V', 15, 'middle', 1.02);
</script>
</body>
</html>
